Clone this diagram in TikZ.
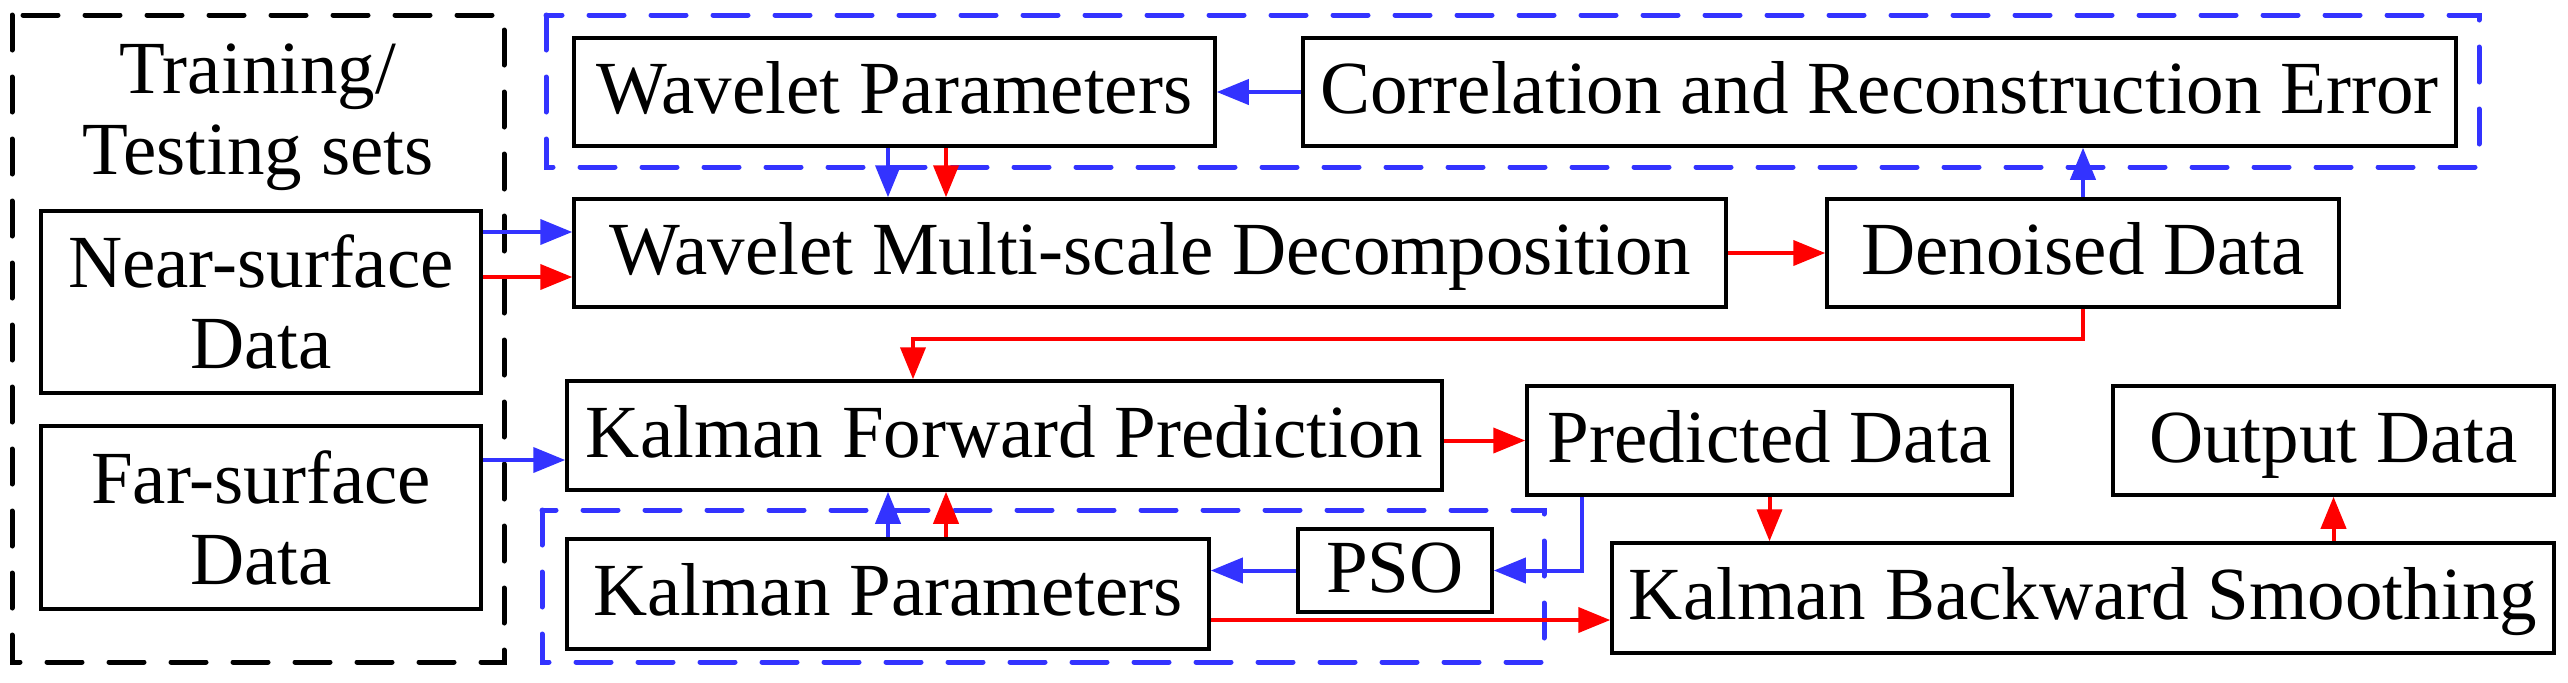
\documentclass[tikz,border=0pt]{standalone}
\usepackage{fontspec}
\setmainfont{Liberation Serif}
\usetikzlibrary{arrows.meta,calc}
\definecolor{myblue}{RGB}{51,51,255}
\definecolor{myred}{RGB}{255,0,0}
\begin{document}
\begin{tikzpicture}[x=0.5pt,y=-0.5pt,
  every node/.style={font=\fontsize{37.5pt}{40.5pt}\selectfont},
  box/.style={draw=black,line width=1.75pt,rectangle,inner sep=0pt},
  one/.style={box,text height=29.25pt,text depth=7.5pt},
  arr/.style={line width=2pt,-{Triangle[length=16pt,width=12.5pt]}},
  barr/.style={arr,draw=myblue},
  rarr/.style={arr,draw=myred},
  dbox/.style={line width=2.5pt,dash pattern=on 17.5pt off 13.5pt,line cap=round}]
\useasboundingbox (0,0) rectangle (2568,682);
% group frames
\draw[dbox,black] (12,15) rectangle (504,662);
\draw[dbox,myblue] (546,15) rectangle (2479,167);
\draw[dbox,myblue] (542,510) rectangle (1544,662);
% nodes
\node[align=center] (sets) at (258,117) {Training/\\Testing sets};
\node[box,align=center,minimum width=220pt,minimum height=91pt] (near) at (261,302) {Near-surface\\Data};
\node[box,align=center,minimum width=220pt,minimum height=91.5pt] (far) at (261,517.5) {Far-surface\\Data};
\node[one,minimum width=320.5pt,minimum height=54pt] (wp) at (894.5,92) {Wavelet Parameters};
\node[one,minimum width=576.5pt,minimum height=54pt] (corr) at (1879.5,92) {Correlation and Reconstruction Error};
\node[one,minimum width=576pt,minimum height=54pt] (wmd) at (1150,253) {Wavelet Multi-scale Decomposition};
\node[one,minimum width=256pt,minimum height=54pt] (den) at (2083,253) {Denoised Data};
\node[one,minimum width=437.5pt,minimum height=54.5pt] (kfp) at (1004.5,435.5) {Kalman Forward Prediction};
\node[one,minimum width=242.5pt,minimum height=54.5pt] (pred) at (1769.5,440.5) {Predicted Data};
\node[one,minimum width=220.5pt,minimum height=54.5pt] (out) at (2333.5,440.5) {Output Data};
\node[one,minimum width=321pt,minimum height=55pt] (kp) at (888,594) {Kalman Parameters};
\node[one,minimum width=97pt,minimum height=41.5pt] (pso) at (1395,570.5) {PSO};
\node[one,minimum width=471pt,minimum height=55pt] (kbs) at (2083,598) {Kalman Backward Smoothing};
% helper coordinates
\path (wp.south) ++(-6.5,0) coordinate (wpb) ++(58,0) coordinate (wpr);
\path (near.east) ++(0,-70) coordinate (n1) ++(0,45) coordinate (n2);
\path (far.east) ++(0,-57.5) coordinate (f1);
\path (kfp.north) ++(-91.5,0) coordinate (k1);
\path (pred.south) ++(-187.5,0) coordinate (p1);
\path (kp.north) ++(58,0) coordinate (kr);
\path (kp.east) ++(0,26) coordinate (kb);
% connectors
\draw[barr] (corr.west) -- (wp.east);
\draw[barr] (wpb) -- (wpb |- wmd.north);
\draw[rarr] (wpr) -- (wpr |- wmd.north);
\draw[barr] (n1) -- (n1 -| wmd.west);
\draw[rarr] (n2) -- (n2 -| wmd.west);
\draw[rarr] (wmd.east) -- (den.west);
\draw[barr] (den.north) -- (den.north |- corr.south);
\draw[rarr] (den.south) -- ++(0,30) -| (k1);
\draw[barr] (f1) -- (f1 -| kfp.west);
\draw[rarr] (kfp.east |- pred.west) -- (pred.west);
\draw[barr] (p1) |- (pso.east);
\draw[barr] (pso.west) -- (pso.west -| kp.east);
\draw[barr] (kp.north) -- (kp.north |- kfp.south);
\draw[rarr] (kr) -- (kr |- kfp.south);
\draw[rarr] (kb) -- (kb -| kbs.west);
\draw[rarr] (pred.south) -- (pred.south |- kbs.north);
\draw[rarr] (out.south |- kbs.north) -- (out.south);
\end{tikzpicture}
\end{document}
